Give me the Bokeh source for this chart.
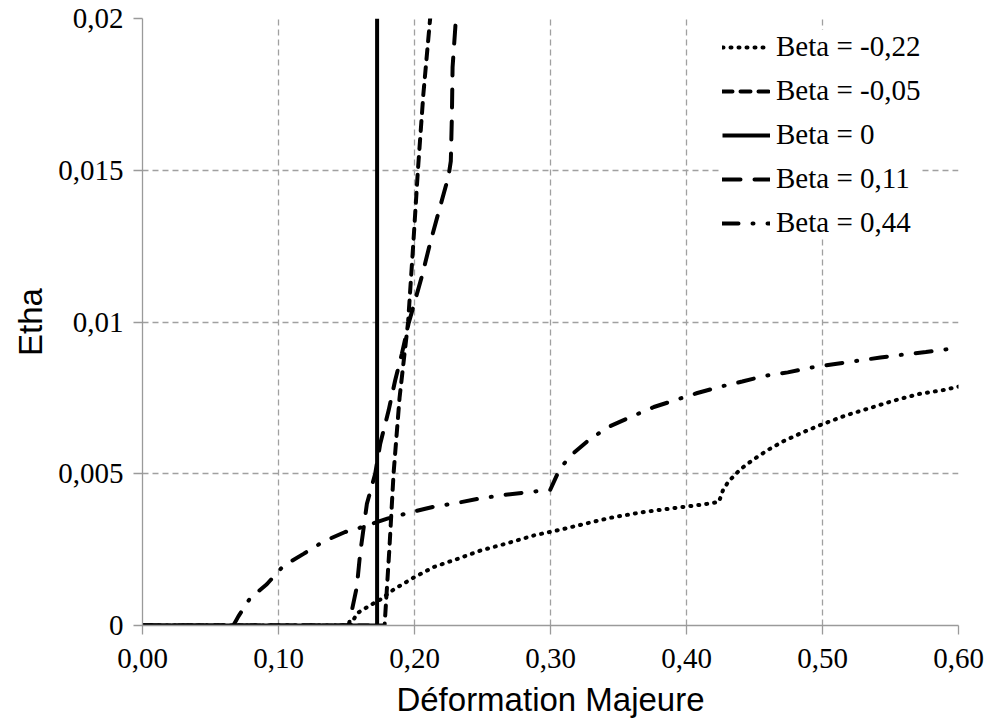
from bokeh.plotting import figure
from bokeh.models import Range1d, FixedTicker, Legend, LegendItem
from bokeh.embed import file_html
from bokeh.resources import INLINE

# ---- data ----
x_m022 = [0.0, 0.153, 0.1577, 0.1676, 0.175, 0.1848, 0.1995, 0.2143, 0.2314, 0.2486, 0.2683, 0.288,
          0.3075, 0.344, 0.3686, 0.393, 0.4127, 0.4238, 0.427, 0.431, 0.4397, 0.4495, 0.4605,
          0.4716, 0.4863, 0.4998, 0.517, 0.5353, 0.5525, 0.571, 0.589, 0.6]
y_m022 = [0.0, 0.0, 0.0004, 0.00067, 0.00086, 0.00119, 0.00158, 0.00193, 0.00219, 0.00247, 0.00271, 0.00297,
          0.00316, 0.00355, 0.00374, 0.00388, 0.00399, 0.00407, 0.00448, 0.00475, 0.00515, 0.00548, 0.0058,
          0.00608, 0.00638, 0.00663, 0.00692, 0.00717, 0.00741, 0.00763, 0.00776, 0.00787]

x_m005 = [0.0, 0.178, 0.1815, 0.1846, 0.189, 0.1953, 0.199, 0.2025, 0.2065, 0.2115]
y_m005 = [0.0, 0.0, 0.0025, 0.005, 0.0075, 0.01, 0.0125, 0.015, 0.0175, 0.02]

x_0 = [0.0, 0.1725, 0.1725]
y_0 = [0.0, 0.0, 0.02]

x_011 = [0.0, 0.1516, 0.1576, 0.160, 0.165, 0.1711, 0.1748, 0.181, 0.1858, 0.1907, 0.1956,
         0.2054, 0.2115, 0.2176, 0.225, 0.2267, 0.2275, 0.228, 0.23, 0.2304]
y_011 = [0.0, 0.0, 0.00127, 0.00236, 0.00401, 0.005, 0.00599, 0.00709, 0.00808, 0.00895, 0.00994,
         0.0115, 0.0126, 0.0136, 0.0148, 0.0153, 0.0168, 0.0184, 0.0197, 0.02]

x_044 = [0.0, 0.0668, 0.0705, 0.079, 0.0914, 0.1037, 0.1184, 0.1332, 0.149, 0.1577, 0.180, 0.198,
         0.214, 0.2314, 0.2486, 0.2658, 0.283, 0.2998, 0.3049, 0.3093, 0.3167, 0.3294, 0.344,
         0.359, 0.376, 0.392, 0.408, 0.425, 0.441, 0.458, 0.4745, 0.492, 0.508, 0.5255, 0.5426,
         0.5598, 0.576, 0.595, 0.6]
y_044 = [0.0, 0.0, 0.0003, 0.00089, 0.00136, 0.00197, 0.00236, 0.00277, 0.00308, 0.00319, 0.00352, 0.00374,
         0.00391, 0.00404, 0.00419, 0.0043, 0.00439, 0.00447, 0.00497, 0.0053, 0.00567, 0.00616, 0.00657,
         0.00687, 0.0072, 0.00743, 0.00766, 0.00787, 0.00804, 0.00823, 0.00834, 0.0085, 0.00861, 0.00872, 0.00883,
         0.00893, 0.00901, 0.00912, 0.00913]

series_labels = ["Beta = -0,22", "Beta = -0,05", "Beta = 0", "Beta = 0,11", "Beta = 0,44"]

x_ticks = [0.0, 0.1, 0.2, 0.3, 0.4, 0.5, 0.6]
x_tick_labels = ["0,00", "0,10", "0,20", "0,30", "0,40", "0,50", "0,60"]
y_ticks = [0.0, 0.005, 0.01, 0.015, 0.02]
y_tick_labels = ["0", "0,005", "0,01", "0,015", "0,02"]

x_title = "Déformation Majeure"
y_title = "Etha"

# ---- figure ----
p = figure(width=989, height=722, output_backend="svg", toolbar_location=None,
           x_range=Range1d(0, 0.6), y_range=Range1d(0, 0.02),
           min_border_left=142, min_border_right=31, min_border_top=18, min_border_bottom=97)
p.outline_line_color = None
p.background_fill_color = "white"
p.border_fill_color = "white"

for g, t in ((p.xgrid, x_ticks), (p.ygrid, y_ticks)):
    g.ticker = FixedTicker(ticks=t)
    g.grid_line_color = "#a0a0a0"
    g.grid_line_dash = "6 4"
    g.grid_line_width = 1.3

for ax, t, lab in ((p.xaxis, x_ticks, x_tick_labels), (p.yaxis, y_ticks, y_tick_labels)):
    ax.ticker = FixedTicker(ticks=t)
    ax.major_label_overrides = {v: s for v, s in zip(t, lab)}
    ax.axis_line_color = "#9a9a9a"
    ax.axis_line_width = 1.3
    ax.major_tick_line_color = "#9a9a9a"
    ax.major_tick_line_width = 1.3
    ax.major_tick_in = 0
    ax.major_tick_out = 9
    ax.minor_tick_line_color = None
    ax.major_label_text_font = "Liberation Serif"
    ax.major_label_text_font_size = "29px"
    ax.major_label_text_color = "black"
    ax.axis_label_text_font = "Liberation Sans"
    ax.axis_label_text_font_size = "33px"
    ax.axis_label_text_font_style = "normal"
    ax.axis_label_text_color = "black"

p.xaxis.axis_label = x_title
p.yaxis.axis_label = y_title
p.xaxis.major_label_standoff = 14
p.yaxis.major_label_standoff = 10
p.xaxis.axis_label_standoff = 10
p.yaxis.axis_label_standoff = 6

lw = 4
r1 = p.line(x_m022, y_m022, line_color="black", line_width=lw, line_dash="1 7", line_cap="round")
r2 = p.line(x_m005, y_m005, line_color="black", line_width=lw, line_dash="10 8", line_cap="round")
r3 = p.line(x_0, y_0, line_color="black", line_width=lw)
r4 = p.line(x_011, y_011, line_color="black", line_width=lw, line_dash="18 14", line_cap="round")
r5 = p.line(x_044, y_044, line_color="black", line_width=lw, line_dash="16 14 1 14", line_cap="round")

legend = Legend(items=[LegendItem(label=l, renderers=[r]) for l, r in zip(series_labels, [r1, r2, r3, r4, r5])],
                location=(580, 386))
legend.label_text_font = "Liberation Serif"
legend.label_text_font_size = "29px"
legend.label_text_color = "black"
legend.glyph_width = 48
legend.glyph_height = 20
legend.label_standoff = 6
legend.spacing = 11
legend.padding = 6
legend.margin = 0
legend.border_line_color = None
legend.background_fill_color = "white"
legend.background_fill_alpha = 1.0
p.add_layout(legend, "center")

open("out.html", "w").write(file_html(p, INLINE))
